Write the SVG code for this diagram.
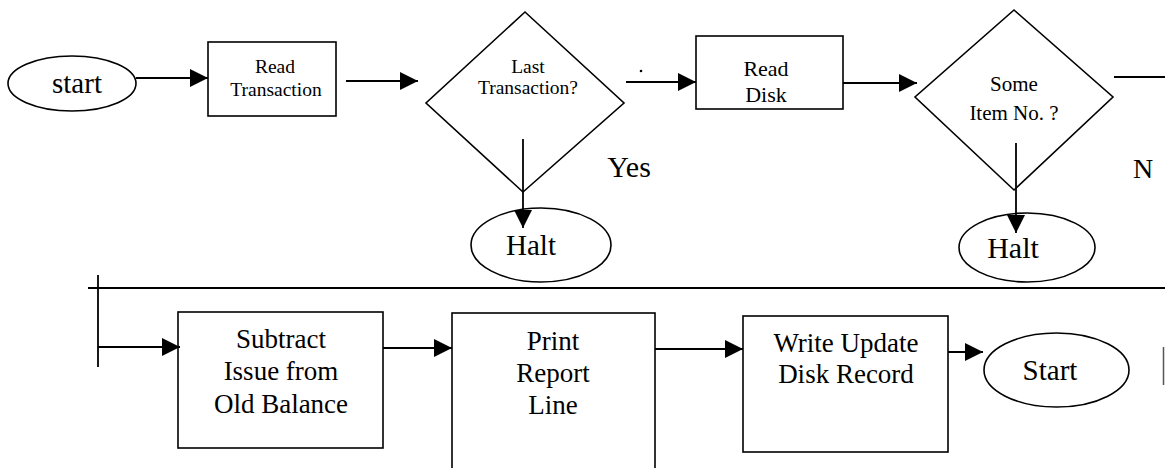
<svg xmlns="http://www.w3.org/2000/svg" width="1165" height="468" viewBox="0 0 1165 468">
  <style>
    .shape { fill: #fff; stroke: #000; stroke-width: 1.6; }
    .line { fill: none; stroke: #000; stroke-width: 1.8; }
    .t { font-family: "Liberation Serif", "Times New Roman", serif; fill: #000; text-anchor: middle; }
    .ts { font-size: 19.5px; }
    .tm { font-size: 27px; }
    .tl { font-size: 29px; }
  </style>
  <defs>
    <marker id="arrow" markerUnits="userSpaceOnUse" markerWidth="19" markerHeight="19" refX="18" refY="9" orient="auto">
      <path d="M0,0 L18,9 L0,18 Z" fill="#000"/>
    </marker>
  </defs>

  <rect width="1165" height="468" fill="#fff"/>

  <g id="node-start">
    <ellipse class="shape" cx="72" cy="83.5" rx="64" ry="27.5"/>
    <text class="t tl" x="77" y="93">start</text>
  </g>

  <g id="node-read-transaction">
    <rect class="shape" x="208" y="42" width="128" height="74"/>
    <text class="t ts" x="275" y="73">Read</text>
    <text class="t ts" x="276" y="96">Transaction</text>
  </g>

  <g id="node-last-transaction">
    <polygon class="shape" points="525,12 624,103 523,192 426,103"/>
    <text class="t ts" x="528" y="73">Last</text>
    <text class="t ts" x="528" y="94">Transaction?</text>
  </g>

  <g id="node-halt-1">
    <ellipse class="shape" cx="541" cy="245" rx="70" ry="37"/>
    <text class="t tl" x="531" y="255">Halt</text>
  </g>

  <text class="t" x="629" y="177" style="font-size:30px">Yes</text>

  <g id="node-read-disk">
    <rect class="shape" x="696" y="36" width="147" height="73"/>
    <text class="t" x="766" y="76" style="font-size:22px">Read</text>
    <text class="t" x="766" y="102" style="font-size:22px">Disk</text>
  </g>

  <g id="node-same-item">
    <polygon class="shape" points="1014,10 1113,97 1014,190 915,97"/>
    <text class="t" x="1014" y="91" style="font-size:21px">Some</text>
    <text class="t" x="1014" y="120" style="font-size:21px">Item No. ?</text>
  </g>

  <g id="node-halt-2">
    <ellipse class="shape" cx="1027" cy="247.5" rx="68" ry="34.5"/>
    <text class="t" x="1013" y="258" style="font-size:30px">Halt</text>
  </g>

  <text class="t" x="1143" y="178" style="font-size:28px">N</text>

  <g id="node-subtract">
    <rect class="shape" x="178" y="312" width="205" height="136"/>
    <text class="t tm" x="281" y="348">Subtract</text>
    <text class="t tm" x="281" y="380">Issue from</text>
    <text class="t tm" x="281" y="413">Old Balance</text>
  </g>

  <g id="node-print">
    <rect class="shape" x="452" y="313" width="203" height="170"/>
    <text class="t tm" x="553" y="350">Print</text>
    <text class="t tm" x="553" y="382">Report</text>
    <text class="t tm" x="553" y="414">Line</text>
  </g>

  <g id="node-write">
    <rect class="shape" x="743" y="316" width="205" height="136"/>
    <text class="t tm" x="846" y="352">Write Update</text>
    <text class="t tm" x="846" y="383">Disk Record</text>
  </g>

  <g id="node-start-2">
    <ellipse class="shape" cx="1056.5" cy="370" rx="72.5" ry="37"/>
    <text class="t tl" x="1050" y="380">Start</text>
  </g>

  <!-- connectors, drawn over the shapes so the drop lines and heads stay visible -->
  <g id="connectors">
    <line class="line" x1="136" y1="78" x2="208" y2="78" marker-end="url(#arrow)"/>
    <line class="line" x1="346" y1="81" x2="418" y2="81" marker-end="url(#arrow)"/>
    <line class="line" x1="626" y1="82" x2="696" y2="82" marker-end="url(#arrow)"/>
    <line class="line" x1="843" y1="83" x2="917" y2="83" marker-end="url(#arrow)"/>
    <line class="line" x1="1114" y1="77" x2="1165" y2="77"/>
    <line class="line" x1="523" y1="139" x2="523" y2="228" marker-end="url(#arrow)"/>
    <line class="line" x1="1016" y1="143" x2="1016" y2="233" marker-end="url(#arrow)"/>
    <line class="line" x1="88" y1="288" x2="1165" y2="288"/>
    <line class="line" x1="98" y1="275" x2="98" y2="367"/>
    <line class="line" x1="98" y1="347" x2="180" y2="347" marker-end="url(#arrow)"/>
    <line class="line" x1="383" y1="348" x2="452" y2="348" marker-end="url(#arrow)"/>
    <line class="line" x1="655" y1="349" x2="743" y2="349" marker-end="url(#arrow)"/>
    <line class="line" x1="948" y1="352" x2="983" y2="352" marker-end="url(#arrow)"/>
    <line x1="1163.5" y1="347" x2="1163.5" y2="385" stroke="#555" stroke-width="1.5"/>
    <circle cx="641" cy="71" r="1.3" fill="#000"/>
  </g>
</svg>
